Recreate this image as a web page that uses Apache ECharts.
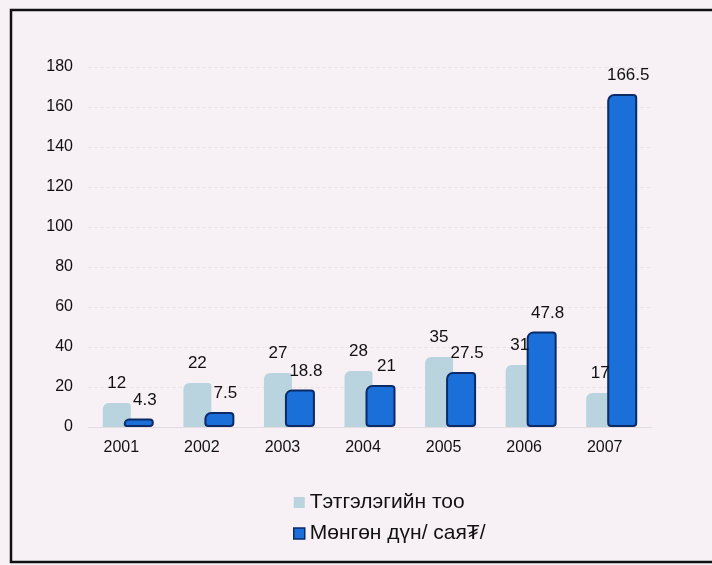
<!DOCTYPE html>
<html><head><meta charset="utf-8">
<script src="https://cdn.jsdelivr.net/npm/echarts@6/dist/echarts.min.js"></script>
<style>html,body{margin:0;padding:0;background:#fdfafc;}#c{width:712px;height:565px;}</style>
</head><body><div id="c"></div>
<script>
const categories = ['2001','2002','2003','2004','2005','2006','2007'];
const countValues = [12, 22, 27, 28, 35, 31, 17];
const amountValues = [4.3, 7.5, 18.8, 21, 27.5, 47.8, 166.5];
const seriesNames = ['Тэтгэлэгийн тоо', 'Мөнгөн дүн/ сая₮/'];
const yTicks = [0, 20, 40, 60, 80, 100, 120, 140, 160, 180];

const chart = echarts.init(document.getElementById('c'));
const font = 'Liberation Sans, Arial, sans-serif';
chart.setOption({
  backgroundColor: '#f7f1f5',
  animation: false,
  graphic: [{
    type: 'rect', shape: {x: 11, y: 10, width: 720, height: 552},
    style: {fill: 'none', stroke: '#111', lineWidth: 2.5}, z: 100
  }],
  grid: {left: 88, right: 60, top: 67, bottom: 138},
  legend: {
    orient: 'vertical', left: 288, top: 487, itemGap: 10,
    itemWidth: 11, itemHeight: 11,
    textStyle: {fontFamily: font, fontSize: 21, color: '#111'},
    data: [
      {name: seriesNames[0], icon: 'rect', itemStyle: {color: '#b9d4df', borderWidth: 0}},
      {name: seriesNames[1], icon: 'rect', itemStyle: {color: '#1a6fd8', borderColor: '#0b2a66', borderWidth: 1.5}}
    ]
  },
  xAxis: {
    type: 'category', data: categories,
    axisLine: {show: true, lineStyle: {color: '#e2dce0'}},
    axisTick: {show: false},
    axisLabel: {fontFamily: font, fontSize: 16, color: '#111', margin: 13, padding: [0, 14, 0, 0]}
  },
  yAxis: {
    type: 'value', min: 0, max: 180, interval: 20,
    axisLine: {show: false}, axisTick: {show: false},
    axisLabel: {fontFamily: font, fontSize: 16, color: '#111', margin: 15,
      formatter: v => yTicks.includes(v) ? String(v) : ''},
    splitLine: {lineStyle: {color: '#ebe5e9', type: 'dashed', width: 1}}
  },
  series: [{
    name: seriesNames[0], type: 'bar', data: countValues,
    barWidth: 28, barGap: '-25%',
    itemStyle: {color: '#b9d4df', borderRadius: [6, 3, 0, 0]},
    label: {show: true, position: 'top', distance: 11, offset: [0, 0],
      fontFamily: font, fontSize: 17, color: '#111'}
  }, {
    name: seriesNames[1], type: 'bar', data: amountValues,
    barWidth: 30,
    itemStyle: {color: '#1a6fd8', borderColor: '#0b2a66', borderWidth: 2, borderRadius: [6, 3, 3, 3]},
    label: {show: true, position: 'top', distance: 10, offset: [6, 0],
      fontFamily: font, fontSize: 17, color: '#111'}
  }]
});
</script></body></html>
